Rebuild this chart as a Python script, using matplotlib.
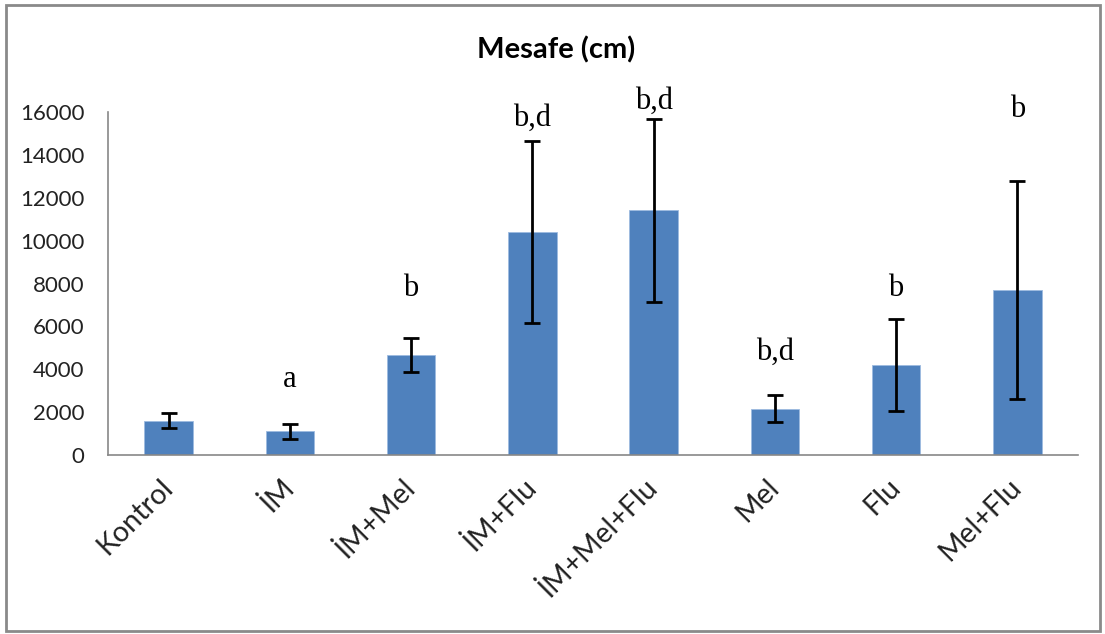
import matplotlib
matplotlib.use("Agg")
import matplotlib.pyplot as plt
from matplotlib.patches import Rectangle
import numpy as np

groups = ["Kontrol", "İM", "İM+Mel", "İM+Flu", "İM+Mel+Flu", "Mel", "Flu", "Mel+Flu"]
means = [1600, 1100, 4650, 10400, 11420, 2150, 4200, 7680]
errors = [340, 340, 790, 4230, 4270, 630, 2140, 5080]
letters = ["", "a", "b", "b,d", "b,d", "b,d", "b", "b"]
letter_y = [None, 3500, 7750, 15700, 16500, 4800, 7750, 16100]

BAR = "#4f81bd"
AXIS = "#888888"

fig = plt.figure(figsize=(11.05, 6.34), dpi=100)
ax = fig.add_axes([108 / 1105, (634 - 455) / 634, 970 / 1105, 343 / 634])

x = np.arange(len(groups))
ax.bar(x, means, width=0.4, color=BAR, edgecolor="#9dbbe0", linewidth=0.6, zorder=2)
ax.errorbar(x, means, yerr=errors, fmt="none", ecolor="black", elinewidth=2,
            capsize=6, capthick=2, zorder=3)

# significance letters above the bars
for xi, lab, ly in zip(x, letters, letter_y):
    if lab:
        ax.text(xi, ly, lab, ha="center", va="center", fontsize=22,
                family="Liberation Serif", color="black", clip_on=False)

ax.set_xlim(-0.5, len(groups) - 0.5)
ax.set_ylim(0, 16000)
ax.set_yticks(np.arange(0, 16001, 2000))
ax.set_yticklabels([str(v) for v in range(0, 16001, 2000)], family="Lato",
                   fontsize=16, color="#222222")
ax.set_xticks(x)
ax.set_xticklabels(groups, rotation=45, ha="right", va="center",
                   rotation_mode="anchor", family="Lato", fontsize=20.5,
                   color="#222222")
ax.tick_params(axis="y", length=0, pad=17)
ax.tick_params(axis="x", length=0, pad=20)

for side in ["top", "right"]:
    ax.spines[side].set_visible(False)
for side in ["left", "bottom"]:
    ax.spines[side].set_color(AXIS)
    ax.spines[side].set_linewidth(1.2)

fig.text(556 / 1105, 1 - 50 / 634, "Mesafe (cm)", ha="center", va="center",
         fontsize=21, fontweight="bold", family="Lato")

# outer chart border
fig.patches.append(Rectangle((6 / 1105, 3 / 634), 1094 / 1105, 626 / 634,
                             transform=fig.transFigure, fill=False,
                             edgecolor="#8a8a8a", linewidth=2))

fig.savefig("out.png", dpi=100)
